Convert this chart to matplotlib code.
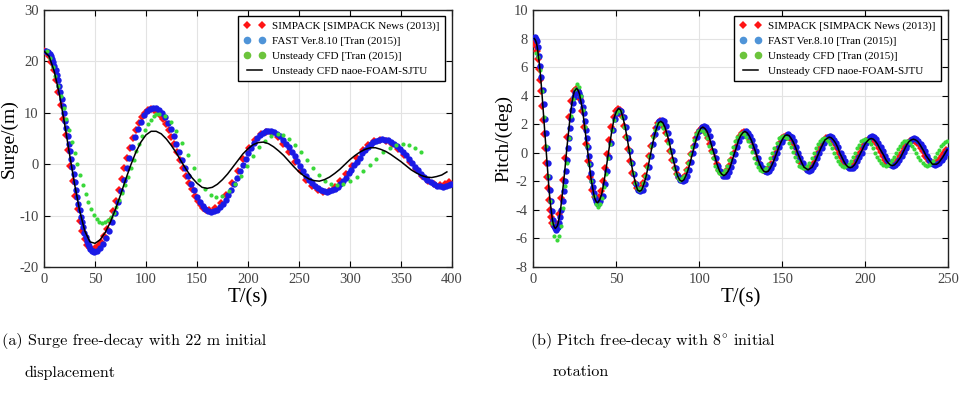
import numpy as np
import matplotlib.pyplot as plt
from matplotlib.lines import Line2D

# ---------------- surge free decay (left) ----------------
surge_simpack_t = [0.0, 2.4, 4.7, 7.1, 9.4, 11.8, 14.1, 16.5, 18.8, 21.2, 23.5, 25.9, 28.2, 30.6, 32.9, 35.3, 37.6, 40.0, 42.3, 44.7,
                   47.0, 49.9, 52.8, 55.7, 58.6, 61.5, 64.4, 67.3, 70.2, 73.1, 76.0, 78.9, 81.8, 84.7, 87.6, 90.5, 93.4, 96.3, 99.2, 102.1,
                   105.0, 107.9, 110.7, 113.6, 116.4, 119.3, 122.1, 125.0, 127.8, 130.7, 133.5, 136.4, 139.2, 142.1, 144.9, 147.8, 150.6, 153.5, 156.3, 159.2,
                   162.0, 167.6, 173.2, 178.8, 184.4, 190.0, 195.6, 201.2, 206.8, 212.4,
                   218.0, 223.6, 229.2, 234.8, 240.4, 246.0, 251.6, 257.2, 262.8, 268.4,
                   274.0, 279.5, 285.0, 290.5, 296.0, 301.5, 307.0, 312.5, 318.0, 323.5,
                   329.0, 334.9, 340.8, 346.7, 352.6, 358.5, 364.4, 370.3, 376.2, 382.1, 388.0, 393.0, 397.0]
surge_simpack = [22.0, 21.8, 21.1, 19.9, 18.3, 16.3, 14.0, 11.5, 8.7, 5.7, 2.7, -0.3, -3.3, -6.1, -8.7, -11.0, -12.9, -14.5, -15.7, -16.4,
                 -16.6, -16.4, -15.9, -15.1, -14.0, -12.6, -11.0, -9.1, -7.2, -5.1, -2.95, -0.8, 1.3, 3.2, 5.1, 6.7, 8.1, 9.2, 10.0, 10.5,
                 10.7, 10.6, 10.2, 9.6, 8.8, 7.8, 6.6, 5.3, 3.9, 2.4, 0.85, -0.7, -2.2, -3.6, -4.9, -6.1, -7.1, -7.9, -8.5, -8.9,
                 -9.0, -8.6, -7.5, -5.9, -3.7, -1.35, 1.0, 3.15, 4.8, 5.9,
                 6.3, 6.0, 5.2, 3.9, 2.3, 0.45, -1.4, -3.0, -4.3, -5.1,
                 -5.4, -5.2, -4.4, -3.3, -1.9, -0.3, 1.3, 2.7, 3.8, 4.6,
                 4.8, 4.6, 4.0, 3.0, 1.8, 0.4, -1.0, -2.2, -3.2, -3.8, -4.0, -3.8, -3.4]

surge_fast_t = [2.0, 3.2, 4.4, 5.5, 6.7, 7.9, 9.1, 10.2, 11.4, 12.6, 13.8, 14.9, 16.1, 17.3, 18.5, 19.6, 20.8, 22.0, 23.2, 24.3,
                25.5, 26.7, 27.9, 29.0, 30.2, 31.4, 32.6, 33.7, 34.9, 36.1, 37.3, 38.4, 39.6, 40.8, 42.0, 43.1, 44.3, 45.5, 46.7, 47.8,
                49.0, 51.9, 54.8, 57.7, 60.6, 63.5, 66.4, 69.3, 72.2, 75.1, 78.0, 80.9, 83.8, 86.7, 89.6, 92.5, 95.4, 98.3, 101.2, 104.1,
                107.0, 109.9, 112.7, 115.6, 118.4, 121.3, 124.1, 127.0, 129.8, 132.7, 135.5, 138.4, 141.2, 144.1, 146.9, 149.8, 152.6, 155.5, 158.3, 161.2,
                164.0, 166.8, 169.6, 172.4, 175.2, 178.0, 180.8, 183.6, 186.4, 189.2, 192.0, 194.8, 197.6, 200.4, 203.2, 206.0, 208.8, 211.6, 214.4, 217.2,
                220.0, 222.9, 225.7, 228.6, 231.4, 234.3, 237.1, 240.0, 242.8, 245.7, 248.5, 251.4, 254.2, 257.1, 259.9, 262.8, 265.6, 268.5, 271.3, 274.2,
                277.0, 279.7, 282.4, 285.1, 287.8, 290.5, 293.2, 295.9, 298.6, 301.3, 304.0, 306.7, 309.4, 312.1, 314.8, 317.5, 320.2, 322.9, 325.6, 328.3,
                331.0, 334.0, 337.0, 340.0, 343.0, 346.0, 349.0, 352.0, 355.0, 358.0, 361.0, 364.0, 367.0, 370.0, 373.0, 376.0, 379.0, 382.0, 385.0, 388.0,
                391.0, 394.0, 397.0, 399.5]
surge_fast = [22.0, 21.9, 21.8, 21.5, 21.0, 20.5, 19.9, 19.1, 18.3, 17.3, 16.3, 15.2, 14.0, 12.7, 11.4, 10.0, 8.5, 7.0, 5.5, 4.0,
              2.5, 1.0, -0.5, -2.0, -3.5, -5.0, -6.4, -7.7, -9.0, -10.2, -11.3, -12.3, -13.3, -14.1, -14.9, -15.5, -16.0, -16.5, -16.8, -16.9,
              -17.0, -16.8, -16.3, -15.5, -14.3, -12.9, -11.2, -9.4, -7.3, -5.2, -3.0, -0.8, 1.3, 3.4, 5.2, 6.9, 8.3, 9.5, 10.3, 10.8,
              11.0, 10.9, 10.5, 9.9, 9.1, 8.0, 6.8, 5.5, 4.0, 2.4, 0.9, -0.7, -2.3, -3.8, -5.1, -6.3, -7.4, -8.2, -8.8, -9.2,
              -9.3, -9.2, -8.9, -8.4, -7.8, -7.0, -6.0, -5.0, -3.8, -2.6, -1.4, -0.2, 1.0, 2.2, 3.2, 4.2, 5.0, 5.6, 6.1, 6.4,
              6.5, 6.4, 6.2, 5.9, 5.4, 4.8, 4.0, 3.3, 2.4, 1.5, 0.6, -0.4, -1.3, -2.2, -3.0, -3.7, -4.3, -4.7, -5.1, -5.3,
              -5.4, -5.3, -5.1, -4.8, -4.4, -3.9, -3.3, -2.6, -1.8, -1.1, -0.2, 0.5, 1.3, 2.1, 2.8, 3.4, 3.9, 4.3, 4.6, 4.8,
              4.9, 4.8, 4.7, 4.4, 4.0, 3.5, 3.0, 2.4, 1.7, 1.0, 0.2, -0.5, -1.2, -1.9, -2.5, -3.0, -3.5, -3.9, -4.2, -4.3,
              -4.4, -4.3, -4.1, -3.8]

surge_cfd_tran_t = [3.0, 5.7, 8.4, 11.1, 13.8, 16.5, 19.2, 21.9, 24.6, 27.3, 30.0, 32.7, 35.4, 38.1, 40.8, 43.5, 46.2, 48.9, 51.6, 54.3,
                    57.0, 59.8, 62.6, 65.4, 68.2, 71.0, 73.8, 76.6, 79.4, 82.2, 85.0, 87.8, 90.6, 93.4, 96.2, 99.0, 101.8, 104.6, 107.4, 110.2,
                    113.0, 118.6, 124.2, 129.8, 135.4, 141.0, 146.6, 152.2, 157.8, 163.4,
                    169.0, 175.0, 181.0, 187.0, 193.0, 199.0, 205.0, 211.0, 217.0, 223.0,
                    229.0, 234.8, 240.6, 246.4, 252.2, 258.0, 263.8, 269.6, 275.4, 281.2,
                    287.0, 293.5, 300.0, 306.5, 313.0, 319.5, 326.0, 332.5, 339.0, 345.5, 352.0, 358.0, 364.0, 370.0]
surge_cfd_tran = [22.0, 20.6, 19.0, 17.2, 15.2, 13.2, 11.0, 8.8, 6.6, 4.4, 2.2, 0.0, -2.1, -4.0, -5.8, -7.4, -8.8, -9.9, -10.7, -11.2,
                  -11.4, -11.3, -10.9, -10.2, -9.4, -8.3, -7.0, -5.6, -4.1, -2.5, -0.8, 0.9, 2.5, 4.0, 5.4, 6.7, 7.8, 8.6, 9.3, 9.7,
                  9.8, 9.4, 8.3, 6.5, 4.2, 1.7, -0.8, -3.1, -4.9, -6.0,
                  -6.4, -6.1, -5.2, -3.9, -2.2, -0.3, 1.6, 3.3, 4.6, 5.5,
                  5.8, 5.6, 4.9, 3.8, 2.4, 0.85, -0.7, -2.1, -3.2, -3.9,
                  -4.1, -3.9, -3.3, -2.5, -1.3, -0.1, 1.1, 2.3, 3.1, 3.7, 3.9, 3.7, 3.1, 2.3]

# naoe-FOAM-SJTU, sampled every 5 s from t = 0
surge_sjtu = [22.0, 21.0, 18.1, 13.7, 8.1, 2.0, -3.9, -9.1, -13.0, -15.1,
              -15.4, -14.7, -13.3, -11.3, -8.8, -6.0, -3.0, -0.2, 2.3, 4.3,
              5.7, 6.4, 6.4, 5.9, 4.9, 3.6, 2.1, 0.4, -1.2, -2.6,
              -3.7, -4.5, -4.7, -4.5, -3.9, -3.0, -1.9, -0.6, 0.7, 2.0,
              3.0, 3.8, 4.2, 4.3, 4.0, 3.4, 2.6, 1.7, 0.6, -0.5,
              -1.5, -2.3, -2.9, -3.2, -3.3, -3.0, -2.5, -1.8, -1.0, -0.05,
              0.9, 1.7, 2.4, 2.9, 3.2, 3.2, 2.9, 2.5, 1.9, 1.2,
              0.5, -0.3, -1.1, -1.7, -2.2, -2.5, -2.6, -2.4, -2.1, -1.5]
surge_sjtu_t = np.arange(len(surge_sjtu)) * 5.0

# ---------------- pitch free decay (right) ----------------
# SIMPACK: 0.635 s spacing for the first 20 samples, then 1.27 s from t = 12.7
pitch_simpack = [7.8, 7.7, 7.5, 7.1, 6.6, 5.9, 5.1, 4.3, 3.3, 2.3, 1.3, 0.3, -0.7, -1.7, -2.5, -3.3, -4.0, -4.5, -4.9, -5.1,
                 -5.2, -5.0, -4.3, -3.2, -1.9, -0.4, 1.1, 2.5, 3.6, 4.3,
                 4.5, 4.3, 3.8, 2.9, 1.8, 0.6, -0.6, -1.7, -2.6, -3.1,
                 -3.3, -3.1, -2.7, -2.0, -1.1, -0.1, 0.9, 1.8, 2.5, 2.9,
                 3.1, 3.0, 2.6, 1.9, 1.1, 0.25, -0.6, -1.4, -2.1, -2.5,
                 -2.6, -2.5, -2.1, -1.6, -0.9, -0.2, 0.5, 1.2, 1.7, 2.1,
                 2.2, 2.1, 1.8, 1.4, 0.8, 0.15, -0.5, -1.1, -1.5, -1.8,
                 -1.9, -1.8, -1.6, -1.2, -0.7, -0.1, 0.5, 1.0, 1.4, 1.6,
                 1.7, 1.6, 1.4, 1.0, 0.6, 0.1, -0.4, -0.8, -1.2, -1.4,
                 -1.5, -1.4, -1.2, -0.9, -0.5, 0.0, 0.4, 0.8, 1.2, 1.4,
                 1.45, 1.4, 1.2, 0.9, 0.5, 0.1, -0.35, -0.7, -1.0, -1.2,
                 -1.3, -1.2, -1.1, -0.8, -0.4, 0.0, 0.3, 0.7, 1.0, 1.1,
                 1.2, 1.1, 1.0, 0.7, 0.4, 0.0, -0.3, -0.7, -0.9, -1.1,
                 -1.15, -1.1, -0.9, -0.7, -0.4, 0.0, 0.3, 0.6, 0.8, 1.0,
                 1.05, 1.0, 0.85, 0.6, 0.3, 0.0, -0.3, -0.6, -0.8, -0.95,
                 -1.0, -0.95, -0.8, -0.6, -0.3, 0.0, 0.3, 0.55, 0.8, 0.9,
                 0.95, 0.9, 0.8, 0.6, 0.3, 0.05, -0.2, -0.5, -0.7, -0.8,
                 -0.85, -0.8, -0.7, -0.5, -0.25, 0.0, 0.3, 0.5, 0.7, 0.85,
                 0.9, 0.85, 0.7, 0.6, 0.3, 0.1, -0.2, -0.4, -0.6, -0.7,
                 -0.75, -0.7, -0.6, -0.45, -0.25, 0.0, 0.2]
pitch_simpack_t = np.concatenate([np.arange(20) * 0.635, 12.7 + np.arange(len(pitch_simpack) - 20) * 1.27])

# FAST: 0.635 s spacing for the first 60 samples from t = 1, then 1.27 s from t = 39.1
pitch_fast = [8.1, 8.0, 7.8, 7.4, 6.8, 6.1, 5.3, 4.4, 3.4, 2.4, 1.35, 0.3, -0.7, -1.7, -2.6, -3.4, -4.1, -4.7, -5.1, -5.3,
              -5.4, -5.3, -5.2, -4.9, -4.5, -4.0, -3.4, -2.7, -2.0, -1.3, -0.5, 0.3, 1.0, 1.7, 2.4, 3.0, 3.5, 3.9, 4.2, 4.3,
              4.4, 4.35, 4.2, 4.0, 3.6, 3.2, 2.8, 2.2, 1.6, 1.0, 0.4, -0.2, -0.8, -1.4, -2.0, -2.4, -2.8, -3.2, -3.4, -3.55,
              -3.6, -3.4, -3.0, -2.2, -1.3, -0.3, 0.7, 1.6, 2.4, 2.8,
              3.0, 2.9, 2.5, 1.8, 1.0, 0.15, -0.7, -1.5, -2.2, -2.6,
              -2.7, -2.6, -2.2, -1.7, -1.0, -0.2, 0.6, 1.3, 1.8, 2.2,
              2.3, 2.2, 1.9, 1.4, 0.8, 0.15, -0.5, -1.1, -1.6, -1.9,
              -2.0, -1.9, -1.6, -1.2, -0.65, -0.05, 0.55, 1.1, 1.5, 1.8,
              1.9, 1.8, 1.6, 1.2, 0.7, 0.1, -0.4, -0.9, -1.3, -1.6,
              -1.65, -1.6, -1.35, -1.0, -0.6, -0.1, 0.4, 0.85, 1.2, 1.4,
              1.5, 1.4, 1.2, 0.9, 0.5, 0.1, -0.4, -0.8, -1.1, -1.3,
              -1.35, -1.3, -1.1, -0.8, -0.4, 0.0, 0.4, 0.75, 1.05, 1.2,
              1.3, 1.2, 1.1, 0.8, 0.4, 0.0, -0.4, -0.7, -1.0, -1.2,
              -1.25, -1.2, -1.0, -0.8, -0.4, 0.0, 0.3, 0.7, 0.9, 1.1,
              1.15, 1.1, 0.9, 0.7, 0.4, 0.0, -0.3, -0.6, -0.9, -1.05,
              -1.1, -1.05, -0.9, -0.6, -0.3, 0.0, 0.4, 0.7, 0.9, 1.1,
              1.15, 1.1, 0.95, 0.7, 0.4, 0.1, -0.2, -0.5, -0.7, -0.85,
              -0.9, -0.85, -0.7, -0.5, -0.2, 0.05, 0.3, 0.6, 0.8, 0.95,
              1.0, 0.95, 0.8, 0.6, 0.4, 0.1, -0.2, -0.5, -0.7, -0.8,
              -0.85, -0.8, -0.7, -0.5, -0.3, 0.0, 0.2]
pitch_fast_t = np.concatenate([1.0 + np.arange(60) * 0.635, 39.1 + np.arange(len(pitch_fast) - 60) * 1.27])

# Unsteady CFD (Tran 2015): 1.24 s spacing from t = 1.5
pitch_cfd_tran = [7.0, 6.7, 5.8, 4.3, 2.5, 0.5, -1.6, -3.4, -4.9, -5.8,
                  -6.1, -5.8, -5.1, -3.9, -2.3, -0.7, 1.0, 2.6, 3.8, 4.5,
                  4.8, 4.6, 4.0, 3.0, 1.8, 0.5, -0.8, -2.0, -3.0, -3.6,
                  -3.8, -3.6, -3.2, -2.4, -1.5, -0.4, 0.6, 1.6, 2.3, 2.8,
                  3.0, 2.9, 2.5, 1.8, 1.1, 0.2, -0.7, -1.4, -2.1, -2.5,
                  -2.6, -2.5, -2.1, -1.6, -1.0, -0.2, 0.5, 1.1, 1.6, 2.0,
                  2.1, 2.0, 1.7, 1.3, 0.7, 0.1, -0.5, -1.1, -1.5, -1.8,
                  -1.9, -1.8, -1.6, -1.2, -0.7, -0.1, 0.4, 0.9, 1.3, 1.5,
                  1.6, 1.5, 1.3, 1.0, 0.5, 0.05, -0.4, -0.9, -1.2, -1.4,
                  -1.5, -1.4, -1.2, -0.9, -0.5, -0.05, 0.4, 0.8, 1.1, 1.3,
                  1.4, 1.3, 1.1, 0.8, 0.5, 0.05, -0.4, -0.7, -1.0, -1.2,
                  -1.3, -1.2, -1.1, -0.8, -0.4, 0.0, 0.3, 0.7, 1.0, 1.1,
                  1.2, 1.1, 1.0, 0.7, 0.4, 0.05, -0.3, -0.6, -0.9, -1.0,
                  -1.1, -1.05, -0.9, -0.7, -0.4, -0.05, 0.3, 0.6, 0.8, 0.95,
                  1.0, 0.95, 0.8, 0.6, 0.3, 0.0, -0.3, -0.6, -0.8, -0.95,
                  -1.0, -0.95, -0.8, -0.6, -0.3, 0.0, 0.3, 0.55, 0.8, 0.9,
                  0.95, 0.9, 0.8, 0.6, 0.3, 0.0, -0.3, -0.5, -0.7, -0.85,
                  -0.9, -0.85, -0.7, -0.5, -0.3, 0.0, 0.25, 0.5, 0.7, 0.8,
                  0.85, 0.8, 0.7, 0.5, 0.25, 0.0, -0.3, -0.5, -0.7, -0.85,
                  -0.9, -0.85, -0.7, -0.55, -0.3, 0.0, 0.2, 0.45, 0.6, 0.75,
                  0.8]
pitch_cfd_tran_t = 1.5 + np.arange(len(pitch_cfd_tran)) * 1.24

# naoe-FOAM-SJTU: 0.635 s spacing for the first 60 samples from t = 0.5, then 1.27 s from t = 38.6
pitch_sjtu = [8.0, 7.9, 7.7, 7.3, 6.7, 6.1, 5.3, 4.4, 3.4, 2.4, 1.35, 0.3, -0.7, -1.7, -2.6, -3.4, -4.0, -4.6, -5.0, -5.2,
              -5.3, -5.2, -5.1, -4.8, -4.4, -3.9, -3.3, -2.6, -1.9, -1.2, -0.4, 0.4, 1.1, 1.8, 2.5, 3.1, 3.6, 4.0, 4.3, 4.4,
              4.5, 4.45, 4.3, 4.1, 3.7, 3.3, 2.9, 2.3, 1.7, 1.1, 0.5, -0.1, -0.7, -1.3, -1.9, -2.3, -2.7, -3.1, -3.3, -3.45,
              -3.5, -3.3, -2.9, -2.1, -1.2, -0.2, 0.8, 1.7, 2.5, 2.9,
              3.1, 3.0, 2.5, 1.9, 1.1, 0.2, -0.7, -1.5, -2.1, -2.6,
              -2.7, -2.6, -2.2, -1.7, -1.0, -0.25, 0.5, 1.2, 1.7, 2.1,
              2.2, 2.1, 1.8, 1.3, 0.8, 0.1, -0.5, -1.1, -1.6, -1.9,
              -2.0, -1.9, -1.6, -1.2, -0.7, -0.1, 0.5, 1.0, 1.4, 1.7,
              1.8, 1.7, 1.5, 1.1, 0.6, 0.1, -0.4, -0.9, -1.3, -1.5,
              -1.6, -1.5, -1.3, -1.0, -0.5, -0.05, 0.4, 0.9, 1.2, 1.4,
              1.5, 1.4, 1.2, 0.9, 0.5, 0.1, -0.4, -0.8, -1.1, -1.3,
              -1.35, -1.3, -1.1, -0.8, -0.45, -0.05, 0.35, 0.7, 1.0, 1.2,
              1.25, 1.2, 1.0, 0.75, 0.4, 0.0, -0.35, -0.7, -1.0, -1.1,
              -1.2, -1.1, -1.0, -0.7, -0.4, -0.05, 0.3, 0.6, 0.9, 1.0,
              1.1, 1.05, 0.9, 0.7, 0.4, 0.0, -0.3, -0.6, -0.85, -1.0,
              -1.05, -1.0, -0.85, -0.6, -0.3, 0.0, 0.3, 0.6, 0.8, 0.95,
              1.0, 0.95, 0.8, 0.6, 0.3, 0.05, -0.2, -0.5, -0.7, -0.85,
              -0.9, -0.85, -0.7, -0.5, -0.3, 0.0, 0.3, 0.6, 0.8, 0.9,
              0.95, 0.9, 0.8, 0.6, 0.35, 0.1, -0.2, -0.4, -0.6, -0.8,
              -0.8, -0.8, -0.7, -0.5, -0.3, -0.05, 0.2]
pitch_sjtu_t = np.concatenate([0.5 + np.arange(60) * 0.635, 38.6 + np.arange(len(pitch_sjtu) - 60) * 1.27])

labels = ["SIMPACK [SIMPACK News (2013)]", "FAST Ver.8.10 [Tran (2015)]",
          "Unsteady CFD [Tran (2015)]", "Unsteady CFD naoe-FOAM-SJTU"]
captions = [("(a) Surge free-decay with 22 m initial", "displacement"),
            ("(b) Pitch free-decay with $8^{\\circ}$ initial", "rotation")]

plt.rcParams['font.family'] = ['Liberation Serif', 'DejaVu Serif']
plt.rcParams['mathtext.fontset'] = 'cm'
plt.rcParams['axes.unicode_minus'] = False

RED, BLUE, GREEN = '#ff1414', '#1a1ae6', '#3ad83a'

fig = plt.figure(figsize=(9.67, 3.93), dpi=100)
ax1 = fig.add_axes([0.0455, 0.3206, 0.4219, 0.654])
ax2 = fig.add_axes([0.5517, 0.3206, 0.4287, 0.654])


def draw(ax, simpack, fast, tran, sjtu):
    ax.plot(simpack[0], simpack[1], 'D', color=RED, ms=3.6, mew=0, zorder=3)
    ax.plot(fast[0], fast[1], 'o', color=BLUE, ms=4.6, mew=0, zorder=4)
    ax.plot(tran[0], tran[1], 'o', color=GREEN, ms=3.0, mew=0, zorder=5)
    ax.plot(sjtu[0], sjtu[1], '-', color='black', lw=1.1, zorder=6)


draw(ax1, (surge_simpack_t, surge_simpack), (surge_fast_t, surge_fast),
     (surge_cfd_tran_t, surge_cfd_tran), (surge_sjtu_t, surge_sjtu))
draw(ax2, (pitch_simpack_t, pitch_simpack), (pitch_fast_t, pitch_fast),
     (pitch_cfd_tran_t, pitch_cfd_tran), (pitch_sjtu_t, pitch_sjtu))

ax1.set_xlim(0, 400)
ax1.set_ylim(-20, 30)
ax1.set_xticks(np.arange(0, 401, 50))
ax1.set_yticks(np.arange(-20, 31, 10))
ax1.set_ylabel("Surge/(m)", fontsize=14, labelpad=1)

ax2.set_xlim(0, 250)
ax2.set_ylim(-8, 10)
ax2.set_xticks(np.arange(0, 251, 50))
ax2.set_yticks(np.arange(-8, 11, 2))
ax2.set_ylabel("Pitch/(deg)", fontsize=14, labelpad=1)

handles = [Line2D([], [], ls='none', marker='D', color=RED, ms=4.5, mew=0),
           Line2D([], [], ls='none', marker='o', color='#4f94d8', ms=5.5, mew=0),
           Line2D([], [], ls='none', marker='o', color='#6cc43c', ms=5.5, mew=0),
           Line2D([], [], color='black', lw=1.1)]

for ax in (ax1, ax2):
    ax.set_xlabel("T/(s)", fontsize=15, labelpad=2)
    ax.grid(True, color='#e3e3e3', lw=0.8)
    ax.set_axisbelow(True)
    ax.tick_params(direction='in', top=True, right=True, length=4, width=0.8,
                   labelsize=10.5, labelcolor='#444444', pad=4)
    for s in ax.spines.values():
        s.set_linewidth(1.0)
        s.set_color('#222222')
    leg = ax.legend(handles, labels, loc='upper right', bbox_to_anchor=(0.982, 0.975),
                    fontsize=8, numpoints=2, handlelength=2.0, handletextpad=0.6,
                    borderaxespad=0, borderpad=0.45, labelspacing=0.45,
                    fancybox=False, framealpha=1, edgecolor='black')
    leg.get_frame().set_linewidth(1.0)

for (line1, line2), x0 in zip(captions, (0.002, 0.548)):
    fig.text(x0, 0.132, line1, family='cmr10', fontsize=11.6, va='center')
    fig.text(x0 + 0.0235, 0.052, line2, family='cmr10', fontsize=11.6, va='center')

fig.savefig("out.png", dpi=100)
